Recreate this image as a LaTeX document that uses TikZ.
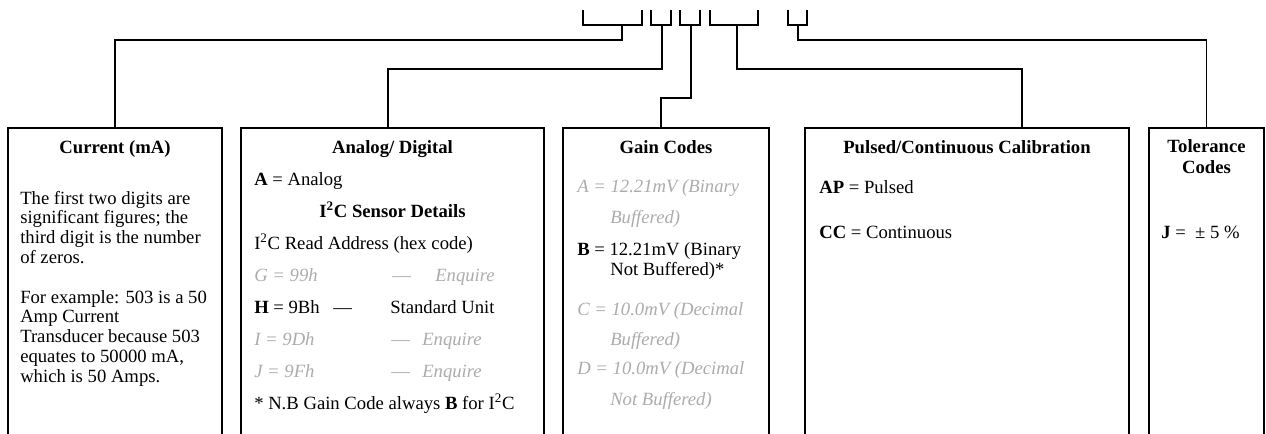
\documentclass[tikz,border=0pt]{standalone}
\usepackage{fontspec}
\setmainfont{Liberation Serif}
\definecolor{lgray}{RGB}{172,172,172}
\newcommand{\fs}{\fontsize{14}{16}\selectfont}
\newcommand{\isq}{I\textsuperscript{2}C}
\begin{document}
\begin{tikzpicture}[x=0.75pt,y=-0.75pt,
  box/.style={draw,line width=1.5pt,rectangle,anchor=north west,inner sep=0pt,outer sep=0pt,minimum height=238.5pt},
  conn/.style={line width=1.1pt},
  txt/.style={anchor=base west,inner sep=0pt,font=\fs},
  gtxt/.style={anchor=base west,inner sep=0pt,font=\fs\itshape,text=lgray},
  gdash/.style={anchor=base west,inner sep=0pt,font=\fs,text=lgray},
  head/.style={anchor=base,inner sep=0pt,font=\fs\bfseries},
]
\clip (0,0) rectangle (1266,433);
\fill[white] (0,0) rectangle (1266,433);
% boxes
\node[box,minimum width=160.5pt] (cur) at (8,128) {};
\node[box,minimum width=227.25pt] (ana) at (241,128) {};
\node[box,minimum width=154.5pt] (gain) at (563,128) {};
\node[box,minimum width=243pt] (pul) at (805,128) {};
\node[box,minimum width=86.25pt] (tol) at (1149,128) {};
% brackets
\draw[conn] (583,10) |- (642,25) -- (642,10);
\draw[conn] (651,10) |- (671,25) -- (671,10);
\draw[conn] (680,10) |- (700,25) -- (700,10);
\draw[conn] (710,10) |- (758,25) -- (758,10);
\draw[conn] (788,10) |- (807,25) -- (807,10);
\coordinate (s1) at (622,25);
\coordinate (s2) at (662,25);
\coordinate (s3) at (691,25);
\coordinate (s4) at (737,25);
\coordinate (s5) at (798,25);
\coordinate (a1) at (622,40);
\coordinate (a2) at (388,69);
\coordinate (a3) at (661,98);
\coordinate (a4) at (1022,69);
\coordinate (a5) at (798,40);
\draw[conn] (s1) -- (a1) -| (cur.north);
\draw[conn] (s2) |- (a2) -- (a2 |- ana.north);
\draw[conn] (s3) |- (a3) -- (a3 |- gain.north);
\draw[conn] (s4) |- (a4) -- (a4 |- pul.north);
\draw[conn] (s5) -- (a5) -| (tol.north);
% Current
\node[head] (h1) at (115,153) {Current (mA)};
\node[txt] (c1) at (20,204) {The first two digits are};
\node[txt] (c2) at (20,223.8) {significant figures; the};
\node[txt] (c3) at (20,243.6) {third digit is the number};
\node[txt] (c4) at (20,263.4) {of zeros.};
\node[txt] (c5) at (20,303) {For example: 503 is a 50};
\node[txt] (c6) at (20,322.8) {Amp Current};
\node[txt] (c7) at (20,342.6) {Transducer because 503};
\node[txt] (c8) at (20,362.4) {equates to 50000 mA,};
\node[txt] (c9) at (20,382.2) {which is 50 Amps.};
% Analog
\node[head] (h2) at (392.5,153) {Analog/ Digital};
\node[txt] (d1) at (254,185.5) {\textbf{A} = Analog};
\node[head] (d2) at (392.5,217.5) {\isq\ Sensor Details};
\node[txt] (d3) at (254,249.5) {\isq\ Read Address (hex code)};
\node[gtxt] (d4) at (254,281.5) {G = 99h};
\node[gdash] (d4b) at (392,281.5) {—};
\node[gtxt] (d4c) at (435,281.5) {Enquire};
\node[txt] (d5) at (254,313.5) {\textbf{H} = 9Bh};
\node[txt] (d5b) at (333,313.5) {—};
\node[txt] (d5c) at (390,313.5) {Standard Unit};
\node[gtxt] (d6) at (254,345.5) {I = 9Dh};
\node[gdash] (d6b) at (391,345.5) {—};
\node[gtxt] (d6c) at (422,345.5) {Enquire};
\node[gtxt] (d7) at (254,377.5) {J = 9Fh};
\node[gdash] (d7b) at (391,377.5) {—};
\node[gtxt] (d7c) at (422,377.5) {Enquire};
\node[txt] (d8) at (254,409.5) {* N.B Gain Code always \textbf{B} for \isq};
% Gain
\node[head] (h3) at (666,153) {Gain Codes};
\node[gtxt] (g1) at (577,192) {A = 12.21mV (Binary};
\node[gtxt] (g2) at (610,223.5) {Buffered)};
\node[txt] (g3) at (577,255) {\textbf{B} = 12.21mV (Binary};
\node[txt] (g4) at (610,275) {Not Buffered)*};
\node[gtxt] (g5) at (577,315.5) {C = 10.0mV (Decimal};
\node[gtxt] (g6) at (610,345) {Buffered)};
\node[gtxt] (g7) at (577,374.5) {D = 10.0mV (Decimal};
\node[gtxt] (g8) at (610,405) {Not Buffered)};
% Pulsed
\node[head] (h4) at (967,153) {Pulsed/Continuous Calibration};
\node[txt] (p1) at (819,193.5) {\textbf{AP} = Pulsed};
\node[txt] (p2) at (819,238.5) {\textbf{CC} = Continuous};
% Tolerance
\node[head] (h5) at (1206.5,152.5) {Tolerance};
\node[head] (h6) at (1206.5,173.8) {Codes};
\node[txt] (t1) at (1161,238.5) {\textbf{J} =\ \ ± 5 \%};
\end{tikzpicture}
\end{document}
